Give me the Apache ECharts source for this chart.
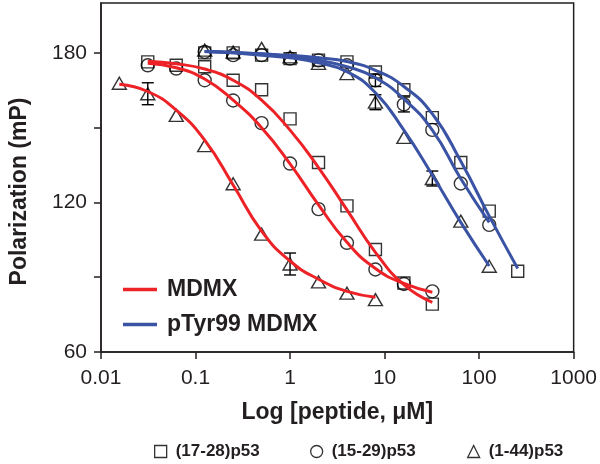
<!DOCTYPE html>
<html>
<head>
<meta charset="utf-8">
<script src="https://cdn.jsdelivr.net/npm/echarts@6/dist/echarts.min.js"></script>
<style>html,body{margin:0;padding:0;background:#fff;}#c{width:600px;height:464px;}</style>
</head>
<body>
<div id="c"></div>
<script>
// Peptide concentrations (µM), two-fold dilution series
const conc = [0.015625, 0.03125, 0.0625, 0.125, 0.25, 0.5, 1, 2, 4, 8, 16, 32, 64, 128, 256];
const xTickLabels = ['0.01', '0.1', '1', '10', '100', '1000'];
const yTickLabels = [60, 120, 180];

// MDMX (red) – measured points
const redSq = [null, 176.4, 175.0, 174.4, 169.0, 165.2, 153.5, 136.0, 118.6, 101.1, 87.7, 79.2, null, null, null];
const redCi = [null, 175.0, 173.7, 169.0, 160.9, 151.8, 135.6, 117.3, 103.8, 93.1, 87.3, 84.3, null, null, null];
const redTr = [167.8, 163.6, 154.9, 142.8, 127.5, 107.3, 95.3, 88.1, 83.6, 81.0, null, null, null, null, null];
// MDMX (red) – fitted curves
const redSqFit = [null, 176.6, 175.6, 173.5, 169.0, 161.0, 149.0, 134.0, 117.0, 100.0, 87.0, 79.9, null, null, null];
const redCiFit = [null, 175.8, 174.0, 169.5, 161.0, 150.0, 135.5, 119.0, 104.0, 93.5, 87.5, 84.0, null, null, null];
const redTrFit = [167.4, 164.5, 157.0, 145.0, 127.0, 108.5, 96.5, 89.2, 84.3, 82.0, null, null, null, null, null];

// pTyr99 MDMX (blue) – measured points
const blueSq = [null, null, null, 180.0, 180.0, 179.1, 177.7, 177.1, 176.4, 172.3, 165.2, 154.0, 136.0, 116.5, 92.4];
const blueCi = [null, null, null, 180.4, 179.1, 179.1, 177.7, 177.0, 175.0, 169.0, 159.3, 149.1, 127.6, 111.0, null];
const blueTr = [null, null, null, 181.1, 180.3, 181.8, 178.4, 175.8, 171.7, 160.2, 146.1, 129.6, 112.5, 94.4, null];
// pTyr99 MDMX (blue) – fitted curves
const blueSqFit = [null, null, null, 180.5, 180.2, 179.6, 179.0, 178.0, 176.5, 173.0, 166.5, 155.5, 136.5, 114.5, 93.5];
const blueCiFit = [null, null, null, 180.5, 180.0, 179.5, 178.5, 177.0, 174.5, 170.0, 161.5, 149.0, 129.5, 112.0, null];
const blueTrFit = [null, null, null, 180.5, 180.0, 179.0, 178.0, 176.0, 172.5, 164.0, 149.0, 131.0, 112.0, 94.5, null];

// Error bars: [concentration, mean, half-range]
const errBars = [
  [0.03125, 163.6, 4.4],
  [1, 95.3, 4.4],
  [8, 160.2, 3.0],
  [32, 129.6, 3.0],
  [8, 169.0, 2.5],
  [16, 159.3, 3.0]
];

const RED = '#ec2227';
const BLUE = '#3a53a4';
const INK = '#231f20';
const FONT = 'Liberation Sans, Arial, sans-serif';

function pairs(vals) {
  const out = [];
  vals.forEach((v, i) => { if (v !== null) out.push([conc[i], v]); });
  return out;
}

function fitLine(name, vals, color) {
  return {
    name: name, type: 'line', data: pairs(vals), smooth: 0.5,
    showSymbol: false, symbol: 'none', z: 4,
    lineStyle: { color: color, width: 3 }, itemStyle: { color: color },
    silent: true
  };
}

const markStyle = { color: 'rgba(255,255,255,0)', borderColor: '#000', borderWidth: 1.4 };
function marks(name, vals, symbol, size) {
  return {
    name: name, type: 'scatter', data: pairs(vals), symbol: symbol, symbolSize: size,
    itemStyle: markStyle, z: 3, silent: true
  };
}

const chart = echarts.init(document.getElementById('c'), null, { renderer: 'canvas' });

const bottomLegend = (name, icon, left) => ({
  left: left, top: 438, orient: 'horizontal', selectedMode: false,
  itemWidth: 12, itemHeight: 12,
  data: [{ name: name, icon: icon, itemStyle: { color: '#fff', borderColor: '#000', borderWidth: 1.3 } }],
  textStyle: { fontFamily: FONT, fontWeight: 'bold', fontSize: 17, color: INK, padding: [0, 0, 0, 4] }
});

chart.setOption({
  animation: false,
  backgroundColor: '#fff',
  grid: { left: 93, right: 25, top: 3, bottom: 112, show: true, borderColor: INK, borderWidth: 1.5, backgroundColor: 'transparent' },
  xAxis: {
    type: 'log', logBase: 10, min: 0.01, max: 1000,
    name: 'Log [peptide, \u03BCM]', nameLocation: 'middle', nameGap: 49,
    nameTextStyle: { fontFamily: FONT, fontWeight: 'bold', fontSize: 23, color: INK },
    axisLine: { lineStyle: { color: INK, width: 1.5 } },
    axisTick: { inside: false, length: 7, lineStyle: { color: INK, width: 1.5 } },
    minorTick: { show: false },
    splitLine: { show: false },
    axisLabel: {
      margin: 16, fontFamily: FONT, fontSize: 21, color: INK,
      formatter: function (v) {
        const e = Math.round(Math.log10(v)) + 2;
        return xTickLabels[e] !== undefined ? xTickLabels[e] : '';
      }
    }
  },
  yAxis: {
    type: 'value', min: 60, max: 200, interval: 30,
    name: 'Polarization (mP)', nameLocation: 'middle', nameGap: 70,
    nameTextStyle: { fontFamily: FONT, fontWeight: 'bold', fontSize: 23, color: INK, padding: [0, 28, 0, 0] },
    axisLine: { show: true, lineStyle: { color: INK, width: 1.5 } },
    axisTick: { show: true, inside: false, length: 7, lineStyle: { color: INK, width: 1.5 } },
    splitLine: { show: false },
    axisLabel: {
      margin: 14, fontFamily: FONT, fontSize: 21, color: INK,
      showMaxLabel: false,
      formatter: function (v) { return yTickLabels.indexOf(v) >= 0 ? String(v) : ''; }
    }
  },
  legend: [
    {
      left: 118, top: 273, orient: 'vertical', itemGap: 12, selectedMode: false,
      itemWidth: 34, itemHeight: 3.5, icon: 'rect',
      data: ['MDMX', 'pTyr99 MDMX'],
      textStyle: { fontFamily: FONT, fontWeight: 'bold', fontSize: 23, color: INK, padding: [0, 0, 0, 5] }
    },
    bottomLegend('(17-28)p53', 'rect', 149),
    bottomLegend('(15-29)p53', 'circle', 305),
    bottomLegend('(1-44)p53', 'triangle', 462)
  ],
  series: [
    marks('(17-28)p53', redSq, 'rect', 12),
    marks('(15-29)p53', redCi, 'circle', 13),
    marks('(1-44)p53', redTr, 'triangle', [14, 12]),
    marks('(17-28)p53', blueSq, 'rect', 12),
    marks('(15-29)p53', blueCi, 'circle', 13),
    marks('(1-44)p53', blueTr, 'triangle', [14, 12]),
    {
      name: 'err', type: 'custom', data: errBars, z: 3, silent: true,
      renderItem: function (params, api) {
        const x = api.value(0), c = api.value(1), e = api.value(2);
        const t = api.coord([x, c + e]);
        const b = api.coord([x, c - e]);
        const hw = 6;
        const st = { stroke: '#000', lineWidth: 1.4 };
        return {
          type: 'group', children: [
            { type: 'line', shape: { x1: t[0], y1: t[1], x2: b[0], y2: b[1] }, style: st },
            { type: 'line', shape: { x1: t[0] - hw, y1: t[1], x2: t[0] + hw, y2: t[1] }, style: st },
            { type: 'line', shape: { x1: b[0] - hw, y1: b[1], x2: b[0] + hw, y2: b[1] }, style: st }
          ]
        };
      }
    },
    fitLine('MDMX', redSqFit, RED),
    fitLine('MDMX', redCiFit, RED),
    fitLine('MDMX', redTrFit, RED),
    fitLine('pTyr99 MDMX', blueSqFit, BLUE),
    fitLine('pTyr99 MDMX', blueCiFit, BLUE),
    fitLine('pTyr99 MDMX', blueTrFit, BLUE)
  ]
});
</script>
</body>
</html>
